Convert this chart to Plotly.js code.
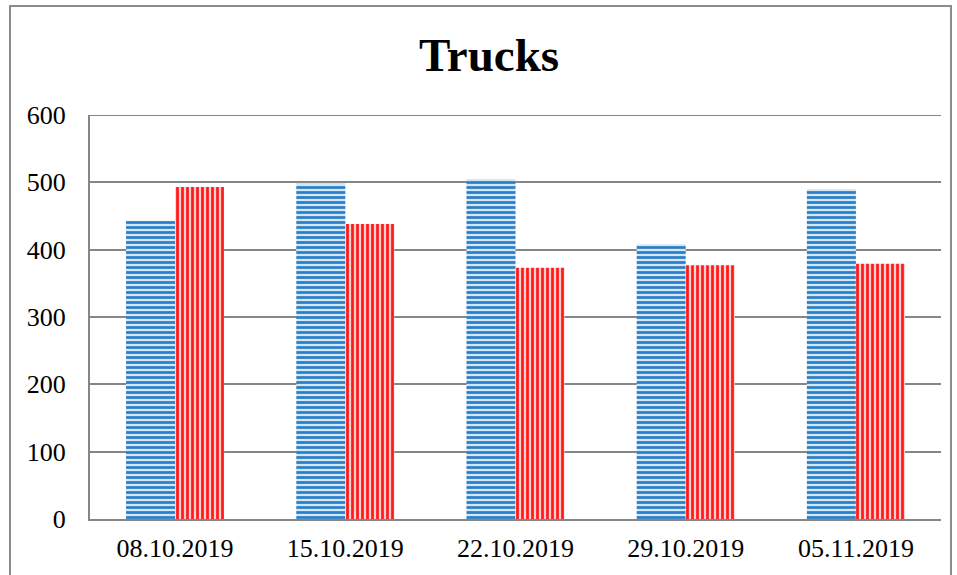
<!DOCTYPE html>
<html>
<head>
<meta charset="utf-8">
<script src="https://cdn.plot.ly/plotly-3.0.1.min.js"></script>
<style>html,body{margin:0;padding:0;background:#fff;}#chart{width:957px;height:575px;}</style>
</head>
<body>
<div id="chart"></div>
<script>
var categories = ["08.10.2019", "15.10.2019", "22.10.2019", "29.10.2019", "05.11.2019"];
var seriesBlue = [443, 498, 505, 408, 490];
var seriesRed = [493, 438, 373, 377, 379];
var yTicks = [0, 100, 200, 300, 400, 500, 600];

var font = "Liberation Serif, Times New Roman, serif";
var traces = [
  {type: "bar", x: categories, y: seriesBlue, name: "A",
   marker: {color: "#cfe2f3", line: {width: 0},
            pattern: {shape: "-", fgcolor: "#2a7fc8", bgcolor: "#d5e6f5", size: 5, solidity: 0.55}}},
  {type: "bar", x: categories, y: seriesRed, name: "B",
   marker: {color: "#ffd0d0", line: {width: 0},
            pattern: {shape: "|", fgcolor: "#ff1a1a", bgcolor: "#ffd0d0", size: 5, solidity: 0.55}}}
];
var layout = {
  width: 957, height: 575,
  margin: {l: 90, r: 16, t: 115, b: 56},
  paper_bgcolor: "#fff", plot_bgcolor: "#fff",
  showlegend: false,
  barmode: "group", bargap: 0.424, bargroupgap: 0,
  title: {text: "<b>Trucks</b>", x: 0.511, xanchor: "center", y: 0.906, yanchor: "middle",
          font: {family: font, size: 47, color: "#000"}},
  xaxis: {type: "category", showgrid: false, showline: true, linecolor: "#868686", linewidth: 2,
          ticks: "", tickfont: {family: font, size: 26, color: "#000"}, ticklabelstandoff: 5},
  yaxis: {range: [0, 600], tickvals: yTicks, showgrid: true, gridcolor: "#868686", gridwidth: 2,
          showline: true, linecolor: "#868686", linewidth: 2, zeroline: false, ticks: "",
          tickfont: {family: font, size: 26, color: "#000"}, ticklabelstandoff: 17},
  shapes: [
    {type: "line", xref: "paper", yref: "y", x0: 0, x1: 1, y0: 600, y1: 600,
     line: {color: "#868686", width: 2}, layer: "below"},
    {type: "rect", xref: "paper", yref: "paper",
     x0: (10 - 90) / 851, x1: (951 - 90) / 851,
     y0: (519 - 590) / 404, y1: (519 - 6) / 404,
     line: {color: "#8c8c8c", width: 2}, fillcolor: "rgba(0,0,0,0)", layer: "below"}
  ]
};
Plotly.newPlot("chart", traces, layout, {displayModeBar: false, staticPlot: true});
</script>
</body>
</html>
